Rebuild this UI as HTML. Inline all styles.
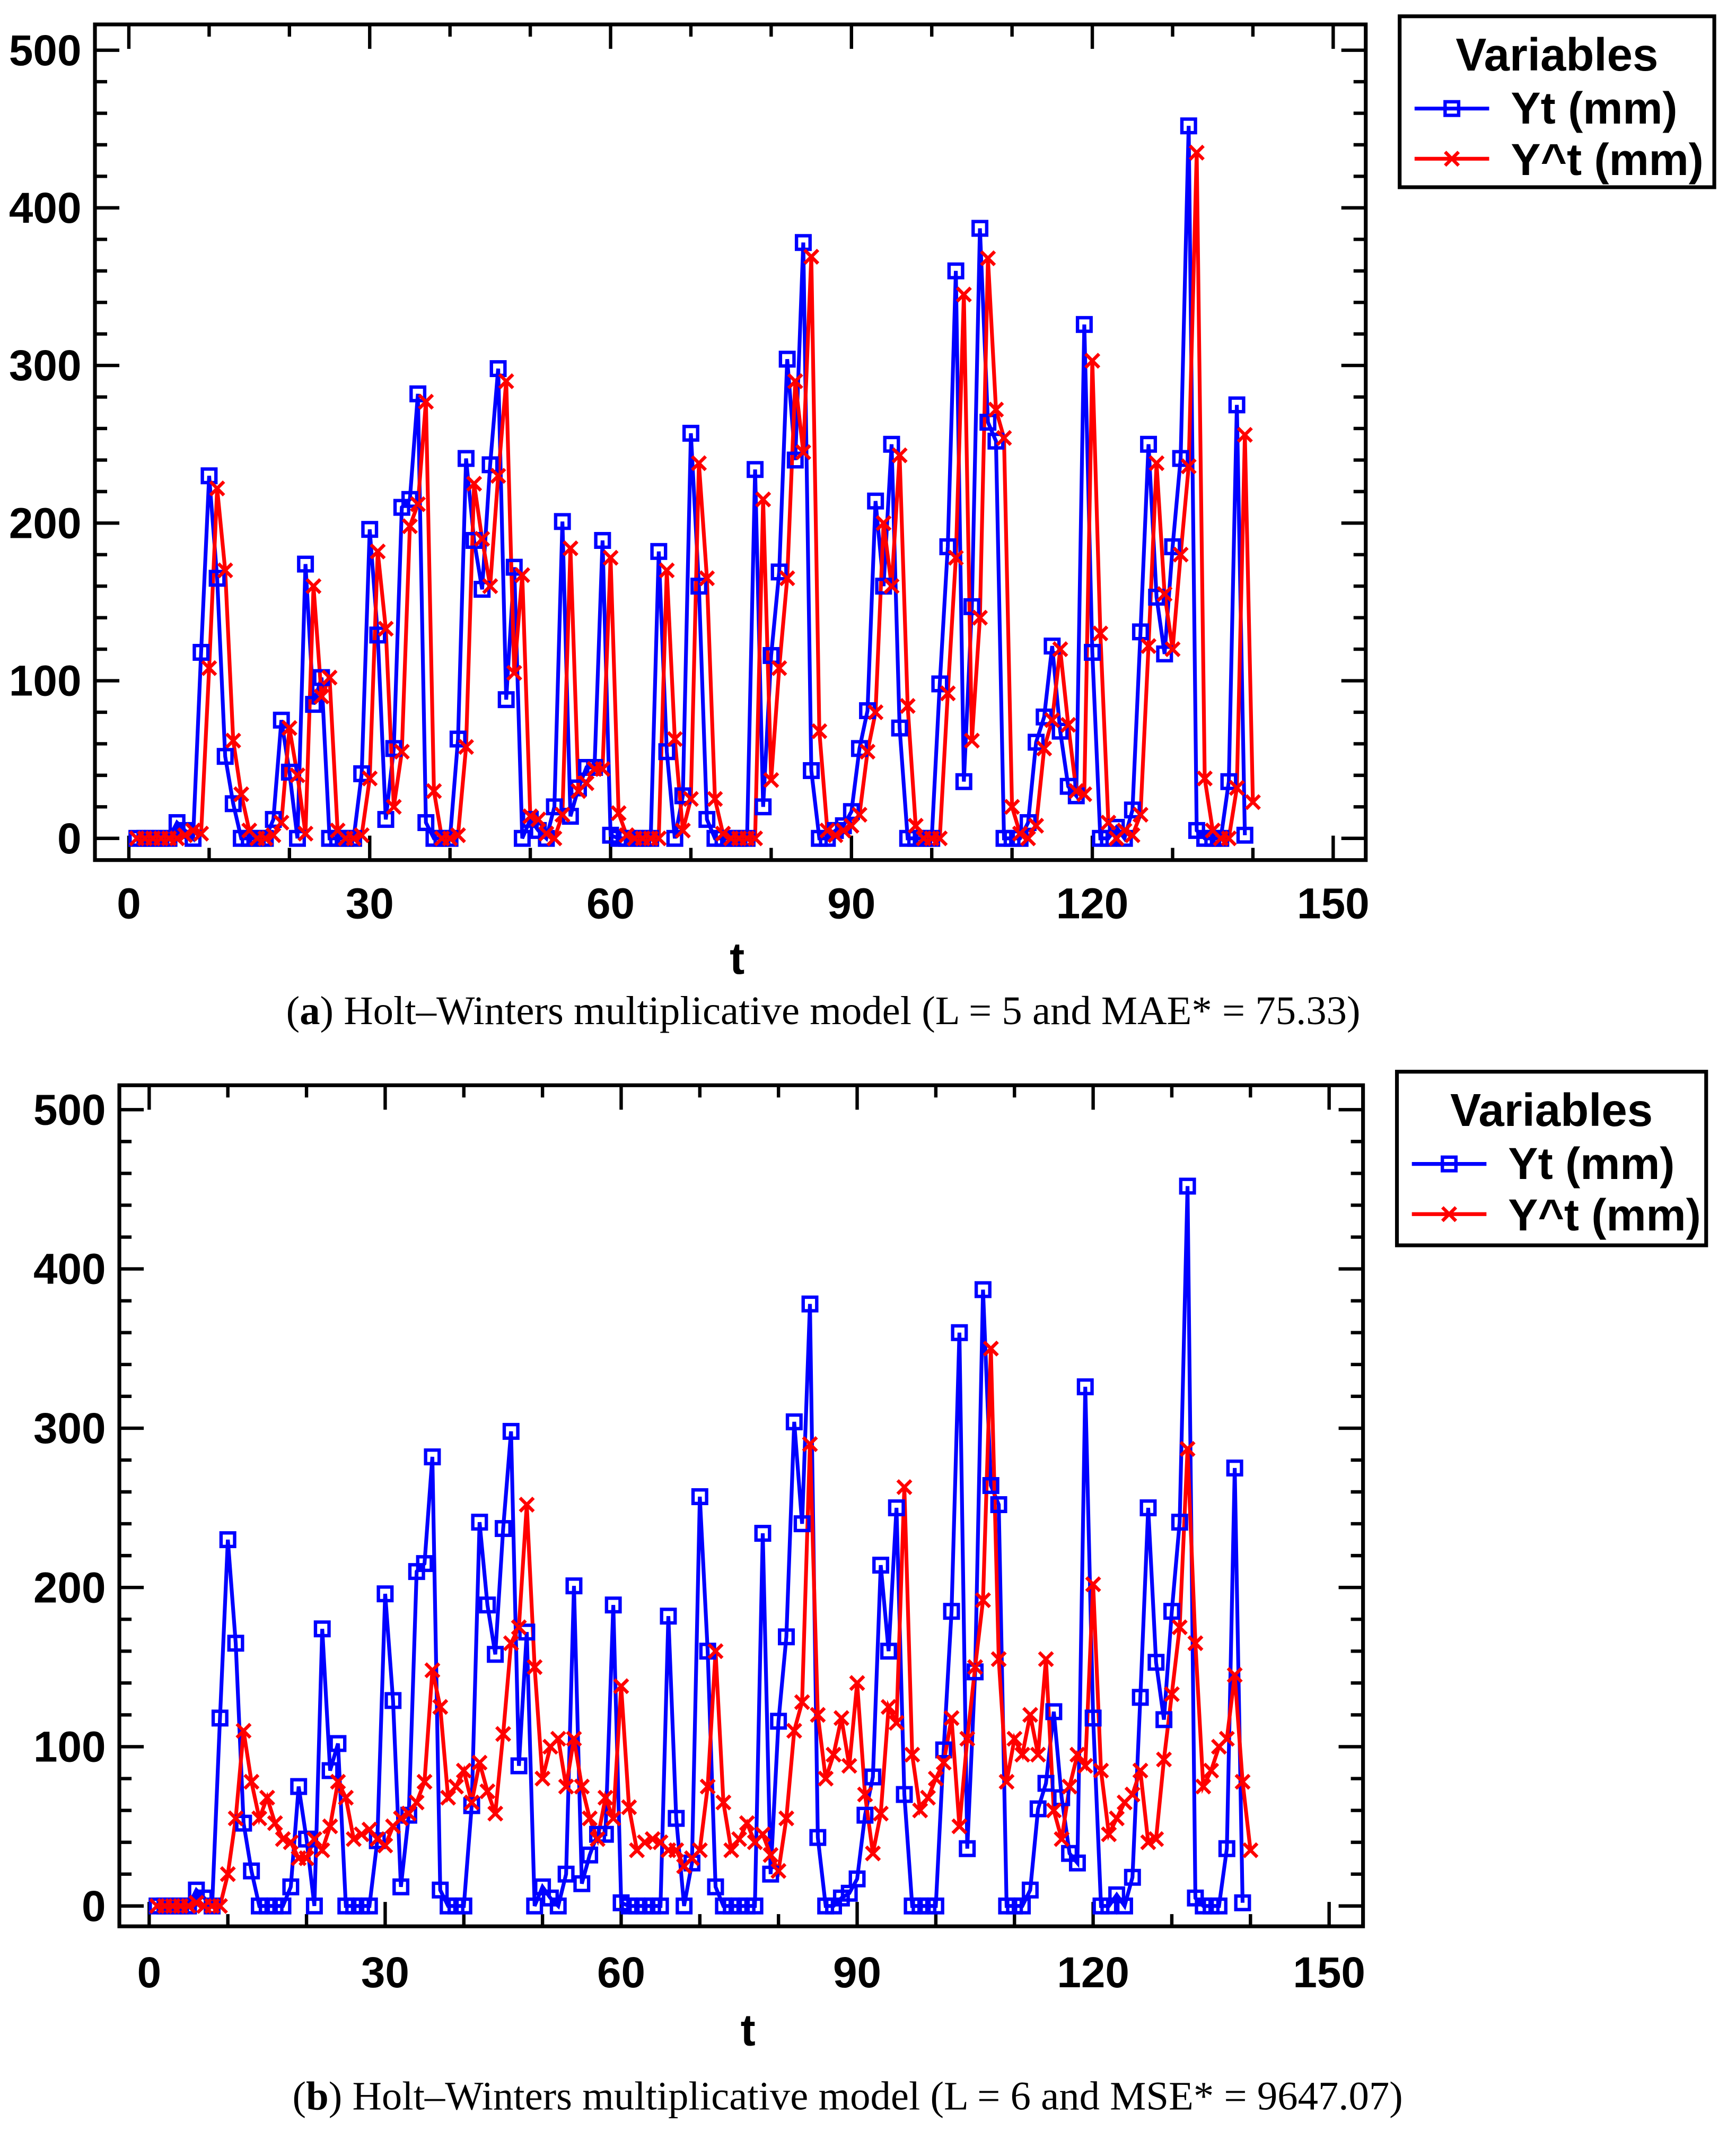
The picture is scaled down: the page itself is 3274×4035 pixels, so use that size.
<!DOCTYPE html>
<html><head><meta charset="utf-8"><style>
html,body{margin:0;padding:0;background:#fff}
svg{display:block}
</style></head><body>
<svg id="fig" xmlns="http://www.w3.org/2000/svg" width="3274" height="4035" viewBox="0 0 1280 1577.5" font-family="Liberation Sans, sans-serif">
<rect width="1280" height="1577.5" fill="#fff"/>
</svg>
<script>
const actual = [0,0,0,0,0,10,5,0,118,230,165,52,22,0,0,0,0,12,75,42,0,174,85,102,0,0,0,0,41,196,129,12,57,210,215,282,10,0,0,0,63,241,189,158,237,298,88,172,0,12,5,0,20,201,14,32,45,45,189,2,0,0,0,0,0,182,55,0,27,257,160,12,0,0,0,0,0,234,20,116,169,304,240,378,43,0,0,5,8,17,57,81,214,160,250,70,0,0,0,0,98,185,360,36,147,387,264,252,0,0,0,10,61,77,122,68,33,27,326,118,0,0,7,0,18,131,250,153,117,185,241,452,5,0,0,0,36,275,2];
const fitA = [0,0,0,0,0,0,2,5,3,108,222,170,62,28,5,0,0,2,10,70,40,3,160,90,102,5,0,0,2,38,182,133,20,55,198,212,277,30,0,0,2,58,225,190,160,230,290,105,167,14,12,3,0,15,184,30,35,44,44,178,16,2,0,0,0,0,170,63,5,25,238,165,25,3,0,0,0,0,215,37,108,165,290,245,369,68,5,2,5,8,15,55,80,200,160,243,84,8,0,0,0,92,178,345,62,140,368,272,254,20,3,0,8,57,75,120,72,30,28,303,130,10,0,5,2,15,122,238,155,120,180,236,435,38,5,0,0,32,256,23];
const fitB = [0,0,0,0,0,2,0,0,0,20,55,110,78,55,68,52,42,40,30,30,42,35,50,78,68,42,45,48,42,38,50,55,58,65,78,148,125,68,75,85,65,90,72,58,108,165,175,252,150,80,100,105,75,105,75,55,42,68,55,138,62,35,40,42,40,35,35,25,30,35,75,160,65,35,42,52,40,45,32,22,55,110,128,290,120,80,95,118,88,140,70,33,58,125,115,263,95,60,68,80,90,118,50,105,150,192,350,155,78,105,95,120,95,155,60,42,75,95,88,202,85,45,55,65,70,85,40,42,92,133,175,287,165,75,85,100,105,145,78,35];
const xTicks = [0,30,60,90,120,150];
const yTicks = [0,100,200,300,400,500];
const panels = [
 {name:'a', fit:fitA, fx0:1, left:70, top:18, w:937, h:616, x0:95, x150:983, y0:618, y500:37, xlab:677, tlab:718, cap:'Holt–Winters multiplicative model (L = 5 and MAE* = 75.33)', capY:755, capX:607, lg:[1032,12,232,126]},
 {name:'b', fit:fitB, fx0:1, left:88, top:800, w:917, h:620, x0:110, x150:980, y0:1405, y500:818, xlab:1465, tlab:1508, cap:'Holt–Winters multiplicative model (L = 6 and MSE* = 9647.07)', capY:1555, capX:625, lg:[1030,790,228,128]}
];
const NS='http://www.w3.org/2000/svg';
const svg=document.getElementById('fig');
function mk(tag,attrs,parent,text){const e=document.createElementNS(NS,tag);for(const k in attrs)e.setAttribute(k,attrs[k]);if(text!==undefined)e.textContent=text;(parent||svg).appendChild(e);return e;}
panels.forEach(p=>{
 const g=mk('g',{});
 
 
 const X=t=>p.x0+(p.x150-p.x0)*t/150;
 const Y=v=>p.y0+(p.y500-p.y0)*v/500;
 const fr=mk('rect',{x:p.left,y:p.top,width:p.w,height:p.h,fill:'none',stroke:'#000','stroke-width':2.8},g);
 
 
 for(let v=0;v<=500;v+=20){const major=v%100===0;const L=major?18:9;
  mk('line',{x1:p.left,x2:p.left+L,y1:Y(v),y2:Y(v),stroke:'#000','stroke-width':2.5},g);
  mk('line',{x1:p.left+p.w,x2:p.left+p.w-L,y1:Y(v),y2:Y(v),stroke:'#000','stroke-width':2.5},g);}
 yTicks.forEach(v=>{const t=mk('text',{x:p.left-10,y:Y(v)+11,'text-anchor':'end','font-size':32,'font-weight':'bold'},g,String(v));
  
  });
 for(let v=0;v<=150;v+=10){const major=v%30===0;const L=major?18:9;
  mk('line',{x1:X(v),x2:X(v),y1:p.top+p.h,y2:p.top+p.h-L,stroke:'#000','stroke-width':2.5},g);
  mk('line',{x1:X(v),x2:X(v),y1:p.top,y2:p.top+L,stroke:'#000','stroke-width':2.5},g);}
 xTicks.forEach(v=>{const t=mk('text',{x:X(v),y:p.xlab,'text-anchor':'middle','font-size':32,'font-weight':'bold'},g,String(v));
  
  });
 const xt=mk('text',{x:(p.left+p.w/2)+5,y:p.tlab,'text-anchor':'middle','font-size':33,'font-weight':'bold'},g,'t');
 
 
 const cap=mk('text',{x:p.capX,y:p.capY,'text-anchor':'middle','font-size':30,'font-family':'Liberation Serif, serif'},g);
 
 
 mk('tspan',{},cap,'(');mk('tspan',{'font-weight':'bold'},cap,p.name);mk('tspan',{},cap,') '+p.cap);
 const pa=actual.map((v,i)=>X(i+1)+','+Y(v)).join(' ');
 const pf=p.fit.map((v,i)=>X(i+p.fx0)+','+Y(v)).join(' ');
 const lb=mk('polyline',{points:pa,fill:'none',stroke:'#0000ff','stroke-width':2.8},g);
 
 
 const lr=mk('polyline',{points:pf,fill:'none',stroke:'#ff0000','stroke-width':2.8},g);
 
 
 actual.forEach((v,i)=>{const r=mk('rect',{x:X(i+1)-5,y:Y(v)-5,width:10,height:10,fill:'none',stroke:'#0000ff','stroke-width':2.5},g);
  
  });
 p.fit.forEach((v,i)=>{const cx=X(i+p.fx0),cy=Y(v);
  const m=mk('path',{d:`M${cx-5},${cy-5}L${cx+5},${cy+5}M${cx+5},${cy-5}L${cx-5},${cy+5}`,stroke:'#ff0000','stroke-width':2.5},g);
  
  });
 const [lx,ly,lw,lh]=p.lg;
 const lgG=mk('g',{},g);
 
 
 mk('rect',{x:lx,y:ly,width:lw,height:lh,fill:'#fff',stroke:'#000','stroke-width':2.8},lgG);
 mk('text',{x:lx+lw/2,y:ly+40,'text-anchor':'middle','font-size':34,'font-weight':'bold'},lgG,'Variables');
 const e1=mk('g',{},lgG);
 
 
 mk('line',{x1:lx+11,x2:lx+66,y1:ly+68,y2:ly+68,stroke:'#0000ff','stroke-width':2.8},e1);
 mk('rect',{x:lx+33.5,y:ly+63,width:10,height:10,fill:'none',stroke:'#0000ff','stroke-width':2.5},e1);
 mk('text',{x:lx+82,y:ly+79,'font-size':33,'font-weight':'bold'},e1,'Yt (mm)');
 const e2=mk('g',{},lgG);
 
 
 mk('line',{x1:lx+11,x2:lx+66,y1:ly+105,y2:ly+105,stroke:'#ff0000','stroke-width':2.8},e2);
 mk('path',{d:`M${lx+33.5},${ly+100}L${lx+43.5},${ly+110}M${lx+43.5},${ly+100}L${lx+33.5},${ly+110}`,stroke:'#ff0000','stroke-width':2.5},e2);
 mk('text',{x:lx+82,y:ly+117,'font-size':33,'font-weight':'bold'},e2,'Y^t (mm)');
});
</script>
</body></html>
